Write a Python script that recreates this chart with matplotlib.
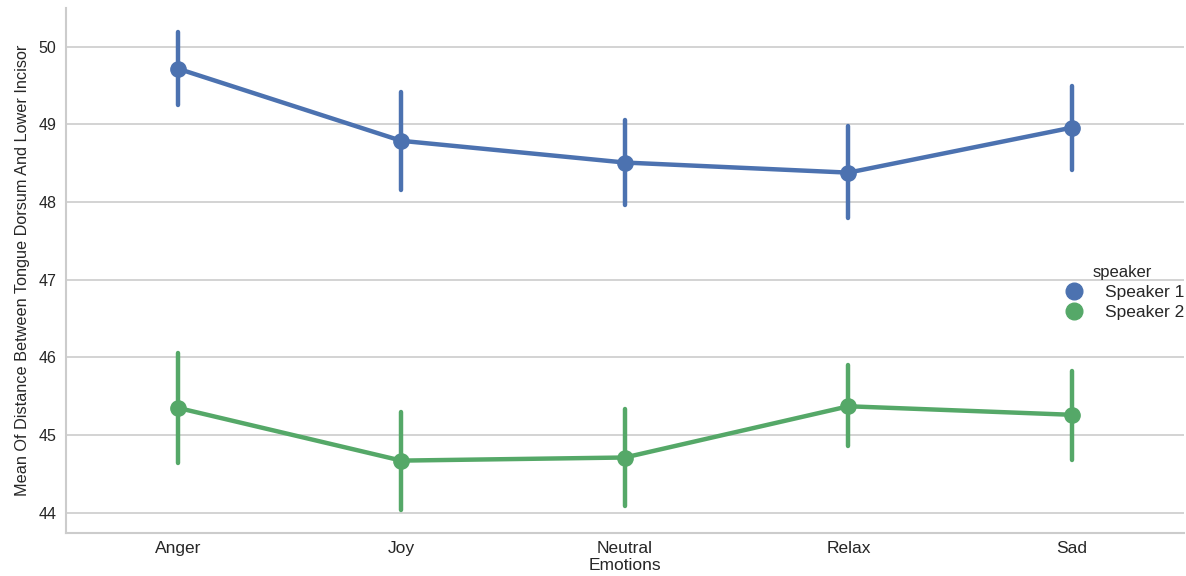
import matplotlib
matplotlib.use("Agg")
import matplotlib.pyplot as plt
from matplotlib.lines import Line2D
import numpy as np

plt.rcParams['font.family'] = ['Liberation Sans', 'DejaVu Sans']

emotions = ["Anger", "Joy", "Neutral", "Relax", "Sad"]

# speaker 1: mean with CI bounds
spk1_mean = [49.72, 48.79, 48.51, 48.38, 48.96]
spk1_low = [49.25, 48.15, 47.96, 47.79, 48.41]
spk1_high = [50.19, 49.42, 49.06, 48.98, 49.50]

# speaker 2
spk2_mean = [45.35, 44.67, 44.71, 45.37, 45.26]
spk2_low = [44.64, 44.04, 44.09, 44.86, 44.68]
spk2_high = [46.05, 45.30, 45.34, 45.90, 45.83]

series = [
    ("Speaker 1", spk1_mean, spk1_low, spk1_high, "#4C72B0"),
    ("Speaker 2", spk2_mean, spk2_low, spk2_high, "#55A868"),
]

text_col = "#262626"
grid_col = "#cccccc"

fig = plt.figure(figsize=(11.86, 5.76), dpi=100)
ax = fig.add_axes([0.0556, 0.075, 0.9425, 0.911])

x = np.arange(len(emotions))
handles = []
for name, mean, lo, hi, col in series:
    for xi, l, h in zip(x, lo, hi):
        ax.plot([xi, xi], [l, h], color=col, lw=3.2, solid_capstyle="round", zorder=3)
    ax.plot(x, mean, color=col, lw=3.2, marker="o", markersize=11,
            solid_capstyle="round", zorder=4)
    handles.append(Line2D([], [], color=col, linestyle="", marker="o",
                          markersize=12, label=name))

ax.set_xlim(-0.5, 4.5)
ax.set_ylim(43.74, 50.5)
ax.set_yticks([44, 45, 46, 47, 48, 49, 50])
ax.set_xticks(x)
ax.set_xticklabels(emotions)
ax.tick_params(length=0, colors=text_col)
ax.tick_params(axis="x", labelsize=12.5, pad=6)
ax.tick_params(axis="y", labelsize=11.5, pad=7)
ax.yaxis.grid(True, color=grid_col, lw=1.2)
ax.set_axisbelow(True)
for side in ("top", "right"):
    ax.spines[side].set_visible(False)
for side in ("left", "bottom"):
    ax.spines[side].set_color(grid_col)
    ax.spines[side].set_linewidth(1.5)

ax.set_xlabel("Emotions", fontsize=12.5, color=text_col, labelpad=1)
ax.set_ylabel("Mean Of Distance Between Tongue Dorsum And Lower Incisor",
              fontsize=11.7, color=text_col, labelpad=6)

leg = fig.legend(handles=handles, title="speaker", loc="center right",
                 bbox_to_anchor=(1.012, 0.492), frameon=False, fontsize=12.5,
                 title_fontsize=12, handletextpad=1.0, labelspacing=0.3,
                 markerfirst=True, handlelength=1.6)
for t in leg.get_texts():
    t.set_color(text_col)
leg.get_title().set_color(text_col)

fig.savefig("out.png", dpi=100)
